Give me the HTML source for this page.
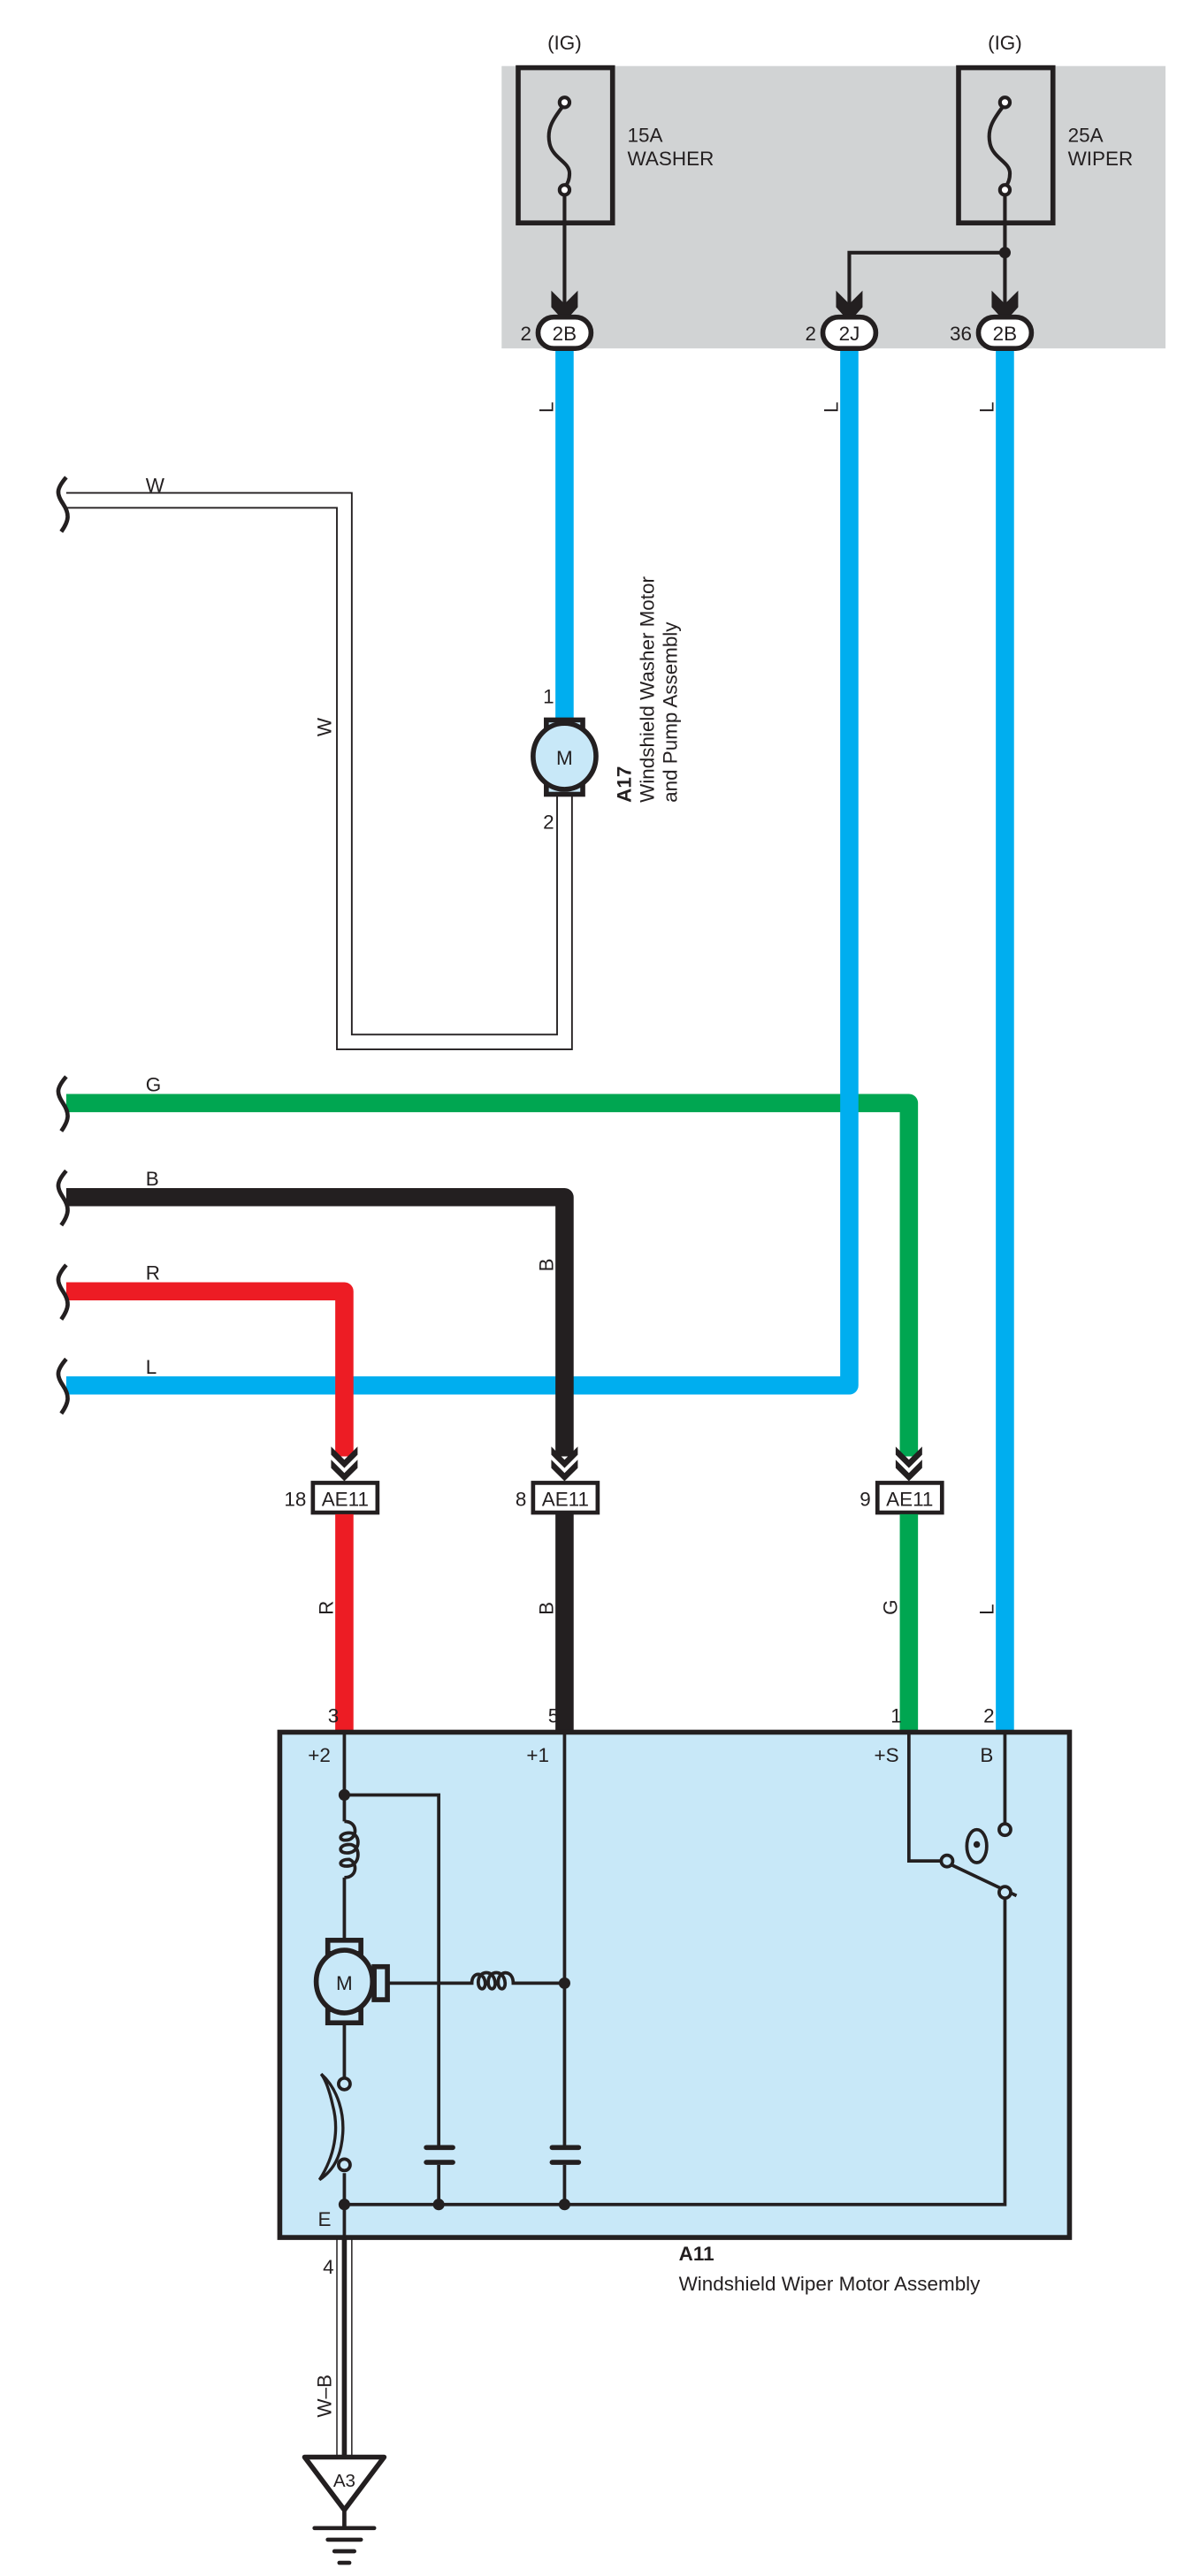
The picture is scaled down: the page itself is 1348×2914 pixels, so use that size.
<!DOCTYPE html>
<html><head><meta charset="utf-8"><style>
html,body{margin:0;padding:0;background:#fff;}
svg{display:block;}
text{font-family:"Liberation Sans",Arial,sans-serif;fill:#231f20;}
</style></head><body>
<svg width="1348" height="2914" viewBox="0 0 720 1560" preserveAspectRatio="none" xmlns="http://www.w3.org/2000/svg">
<rect x="303" y="40" width="401" height="171" fill="#d1d3d4"/>
<g font-size="12">
<text x="341" y="30" text-anchor="middle">(IG)</text>
<text x="607" y="30" text-anchor="middle">(IG)</text>
<text x="379" y="86">15A</text><text x="379" y="100">WASHER</text>
<text x="645" y="86">25A</text><text x="645" y="100">WIPER</text>
</g>
<g fill="none" stroke="#231f20" stroke-width="3">
<rect x="313" y="41" width="57" height="94"/>
<rect x="579" y="41" width="57" height="94"/>
</g>
<g fill="none" stroke="#231f20" stroke-width="2.2">
<path d="M341,63 C334,72 330,78 332,87 C334,96 344,98 344,105 C344,110 342,112 341,114"/>
<path d="M607,63 C600,72 596,78 598,87 C600,96 610,98 610,105 C610,110 608,112 607,114"/>
<circle cx="341" cy="62" r="3" fill="#fff"/><circle cx="341" cy="115" r="3" fill="#fff"/>
<circle cx="607" cy="62" r="3" fill="#fff"/><circle cx="607" cy="115" r="3" fill="#fff"/>
<path d="M341,118 V190"/>
<path d="M607,118 V190 M607,153 H513 V190"/>
</g>
<circle cx="607" cy="153" r="3.5" fill="#231f20"/>
<g fill="#231f20">
<path d="M333,176 L341,184 L349,176 L349,186 L341,195 L333,186Z"/>
<path d="M505,176 L513,184 L521,176 L521,186 L513,195 L505,186Z"/>
<path d="M599,176 L607,184 L615,176 L615,186 L607,195 L599,186Z"/>
</g>
<g fill="none" stroke="#00aeef" stroke-width="11">
<path d="M341,208 V436"/>
<path d="M607,208 V1049"/>
</g>
<path d="M40,303 H208 V631 H341 V481" fill="none" stroke="#231f20" stroke-width="10"/>
<path d="M38,303 H208 V631 H341 V479" fill="none" stroke="#fff" stroke-width="8"/>
<path d="M40,668 H549 V882" fill="none" stroke="#00a651" stroke-width="11" stroke-linejoin="round"/>
<path d="M40,839 H513 V208" fill="none" stroke="#00aeef" stroke-width="11" stroke-linejoin="round"/>
<path d="M40,782 H208 V882" fill="none" stroke="#ed1c24" stroke-width="11" stroke-linejoin="round"/>
<path d="M40,725 H341 V882" fill="none" stroke="#231f20" stroke-width="11" stroke-linejoin="round"/>
<g fill="#fff" stroke="#231f20" stroke-width="3">
<rect x="325" y="192" width="32" height="19" rx="9.5"/>
<rect x="497" y="192" width="32" height="19" rx="9.5"/>
<rect x="591" y="192" width="32" height="19" rx="9.5"/>
</g>
<g font-size="12">
<text x="341" y="206" text-anchor="middle">2B</text><text x="321" y="206" text-anchor="end">2</text>
<text x="513" y="206" text-anchor="middle">2J</text><text x="493" y="206" text-anchor="end">2</text>
<text x="607" y="206" text-anchor="middle">2B</text><text x="587" y="206" text-anchor="end">36</text>
</g>
<g fill="none" stroke="#231f20" stroke-width="2.5">
<path d="M40,289 C34,296 34,299 38,305 C42,311 42,315 37,322"/>
<path d="M40,652 C34,659 34,662 38,668 C42,674 42,678 37,685"/>
<path d="M40,709 C34,716 34,719 38,725 C42,731 42,735 37,742"/>
<path d="M40,766 C34,773 34,776 38,782 C42,788 42,792 37,799"/>
<path d="M40,823 C34,830 34,833 38,839 C42,845 42,849 37,856"/>
</g>
<g font-size="12">
<text x="88" y="298">W</text>
<text x="88" y="661">G</text>
<text x="88" y="718">B</text>
<text x="88" y="775">R</text>
<text x="88" y="832">L</text>
<text transform="translate(334,250) rotate(-90)">L</text>
<text transform="translate(506,250) rotate(-90)">L</text>
<text transform="translate(600,250) rotate(-90)">L</text>
<text transform="translate(200,446) rotate(-90)">W</text>
<text transform="translate(334,770) rotate(-90)">B</text>
<text transform="translate(201,978) rotate(-90)">R</text>
<text transform="translate(334,978) rotate(-90)">B</text>
<text transform="translate(542,978) rotate(-90)">G</text>
<text transform="translate(600,978) rotate(-90)">L</text>
</g>
<g stroke="#231f20" stroke-width="3" fill="#c8e8f8">
<rect x="330" y="436" width="22" height="9"/>
<rect x="330" y="472" width="22" height="9"/>
<ellipse cx="341" cy="458" rx="19" ry="20"/>
</g>
<g font-size="12">
<text x="341" y="463" text-anchor="middle">M</text>
<text x="328" y="426">1</text>
<text x="328" y="502">2</text>
<text transform="translate(381,486) rotate(-90)" font-weight="bold">A17</text>
<text transform="translate(395,486) rotate(-90)">Windshield Washer Motor</text>
<text transform="translate(409,486) rotate(-90)">and Pump Assembly</text>
</g>
<g fill="#231f20">
<path d="M200,876 L208,884 L216,876 L216,881 L208,889 L200,881Z"/>
<path d="M200,884 L208,892 L216,884 L216,889 L208,897 L200,889Z"/>
<path d="M333,876 L341,884 L349,876 L349,881 L341,889 L333,881Z"/>
<path d="M333,884 L341,892 L349,884 L349,889 L341,897 L333,889Z"/>
<path d="M541,876 L549,884 L557,876 L557,881 L549,889 L541,881Z"/>
<path d="M541,884 L549,892 L557,884 L557,889 L549,897 L541,889Z"/>
</g>
<g fill="#fff" stroke="#231f20" stroke-width="2.5">
<rect x="189" y="898" width="39" height="18"/>
<rect x="322" y="898" width="39" height="18"/>
<rect x="530" y="898" width="39" height="18"/>
</g>
<g font-size="12">
<text x="208.5" y="912" text-anchor="middle">AE11</text><text x="185" y="912" text-anchor="end">18</text>
<text x="341.5" y="912" text-anchor="middle">AE11</text><text x="318" y="912" text-anchor="end">8</text>
<text x="549.5" y="912" text-anchor="middle">AE11</text><text x="526" y="912" text-anchor="end">9</text>
</g>
<g fill="none" stroke-width="11">
<path d="M208,917 V1049" stroke="#ed1c24"/>
<path d="M341,917 V1049" stroke="#231f20"/>
<path d="M549,917 V1049" stroke="#00a651"/>
</g>
<rect x="169" y="1049" width="477" height="306" fill="#c8e8f8" stroke="#231f20" stroke-width="3"/>
<g font-size="12">
<text x="198" y="1043">3</text><text x="331" y="1043">5</text><text x="538" y="1043">1</text><text x="594" y="1043">2</text>
<text x="186" y="1067">+2</text><text x="318" y="1067">+1</text><text x="528" y="1067">+S</text><text x="592" y="1067">B</text>
<text x="192" y="1348">E</text>
</g>
<g fill="none" stroke="#231f20" stroke-width="2">
<path d="M208,1049 V1103 M208,1137 V1176 M208,1224 V1258 M208,1316 V1355"/>
<path d="M208,1087 H265 V1300 M265,1311 V1335"/>
<path d="M341,1049 V1300 M341,1311 V1335"/>
<path d="M208,1335 H607 V1150"/>
<path d="M208,1103 C216,1103 216,1112 211,1114 C204,1116 204,1110 211,1110 C218,1110 218,1121 211,1122 C204,1123 204,1117 211,1117 C218,1117 218,1129 211,1130 C204,1131 204,1126 211,1126 C216,1128 216,1137 208,1137"/>
<path d="M234,1201 H285 C285,1194 292,1194 293,1200 C294,1206 288,1206 289,1199 C290,1193 298,1193 299,1200 C300,1206 294,1206 295,1199 C296,1193 304,1193 305,1200 C306,1206 300,1206 301,1199 C302,1193 310,1193 310,1201 H341"/>
<path d="M549,1049 V1127 H569"/>
<path d="M574,1129 L614,1148"/>
<path d="M607,1049 V1105"/>
<ellipse cx="590" cy="1118" rx="6" ry="10"/>
<path d="M194,1256 C203,1264 210,1280 206,1300 C204,1310 199,1316 193,1320 C202,1306 205,1290 201,1275 C199,1266 197,1260 194,1256Z" stroke-width="1.8"/>
</g>
<g fill="#231f20">
<rect x="256" y="1299" width="19" height="3" rx="1.5"/><rect x="256" y="1308" width="19" height="3" rx="1.5"/>
<rect x="332" y="1299" width="19" height="3" rx="1.5"/><rect x="332" y="1308" width="19" height="3" rx="1.5"/>
<circle cx="208" cy="1087" r="3.5"/><circle cx="341" cy="1201" r="3.5"/>
<circle cx="208" cy="1335" r="3.5"/><circle cx="265" cy="1335" r="3.5"/><circle cx="341" cy="1335" r="3.5"/>
<circle cx="590" cy="1117" r="2"/>
</g>
<g fill="#c8e8f8" stroke="#231f20" stroke-width="2">
<circle cx="208" cy="1262" r="3.5"/><circle cx="208" cy="1311" r="3.5"/>
<circle cx="572" cy="1127" r="3.5"/><circle cx="607" cy="1108" r="3.5"/><circle cx="607" cy="1146" r="3.5"/>
</g>
<g stroke="#231f20" stroke-width="3" fill="#c8e8f8">
<rect x="198" y="1175" width="20" height="8"/>
<rect x="198" y="1217" width="20" height="8"/>
<rect x="226" y="1191" width="8" height="20"/>
<ellipse cx="208" cy="1200" rx="17" ry="19"/>
</g>
<text x="208" y="1205" font-size="12" text-anchor="middle">M</text>
<text x="410" y="1369" font-size="12" font-weight="bold">A11</text>
<text x="410" y="1387" font-size="12">Windshield Wiper Motor Assembly</text>
<path d="M203.5,1356 V1487 M212.5,1356 V1487" stroke="#231f20" stroke-width="0.8"/>
<path d="M208,1356 V1487" stroke="#231f20" stroke-width="3"/>
<text x="195" y="1377" font-size="12">4</text>
<text transform="translate(200,1464) rotate(-90)" font-size="12">W–B</text>
<path d="M184,1488 H232 L208,1520Z" fill="#fff" stroke="#231f20" stroke-width="3" stroke-linejoin="round"/>
<text x="208" y="1506" font-size="11" text-anchor="middle">A3</text>
<g stroke="#231f20" stroke-width="2.5" stroke-linecap="round">
<path d="M208,1520 V1530"/>
<path d="M190,1531 H226"/>
<path d="M198,1538 H218"/>
<path d="M202,1545 H214"/>
<path d="M205,1552 H211"/>
</g>
</svg>
</body></html>
